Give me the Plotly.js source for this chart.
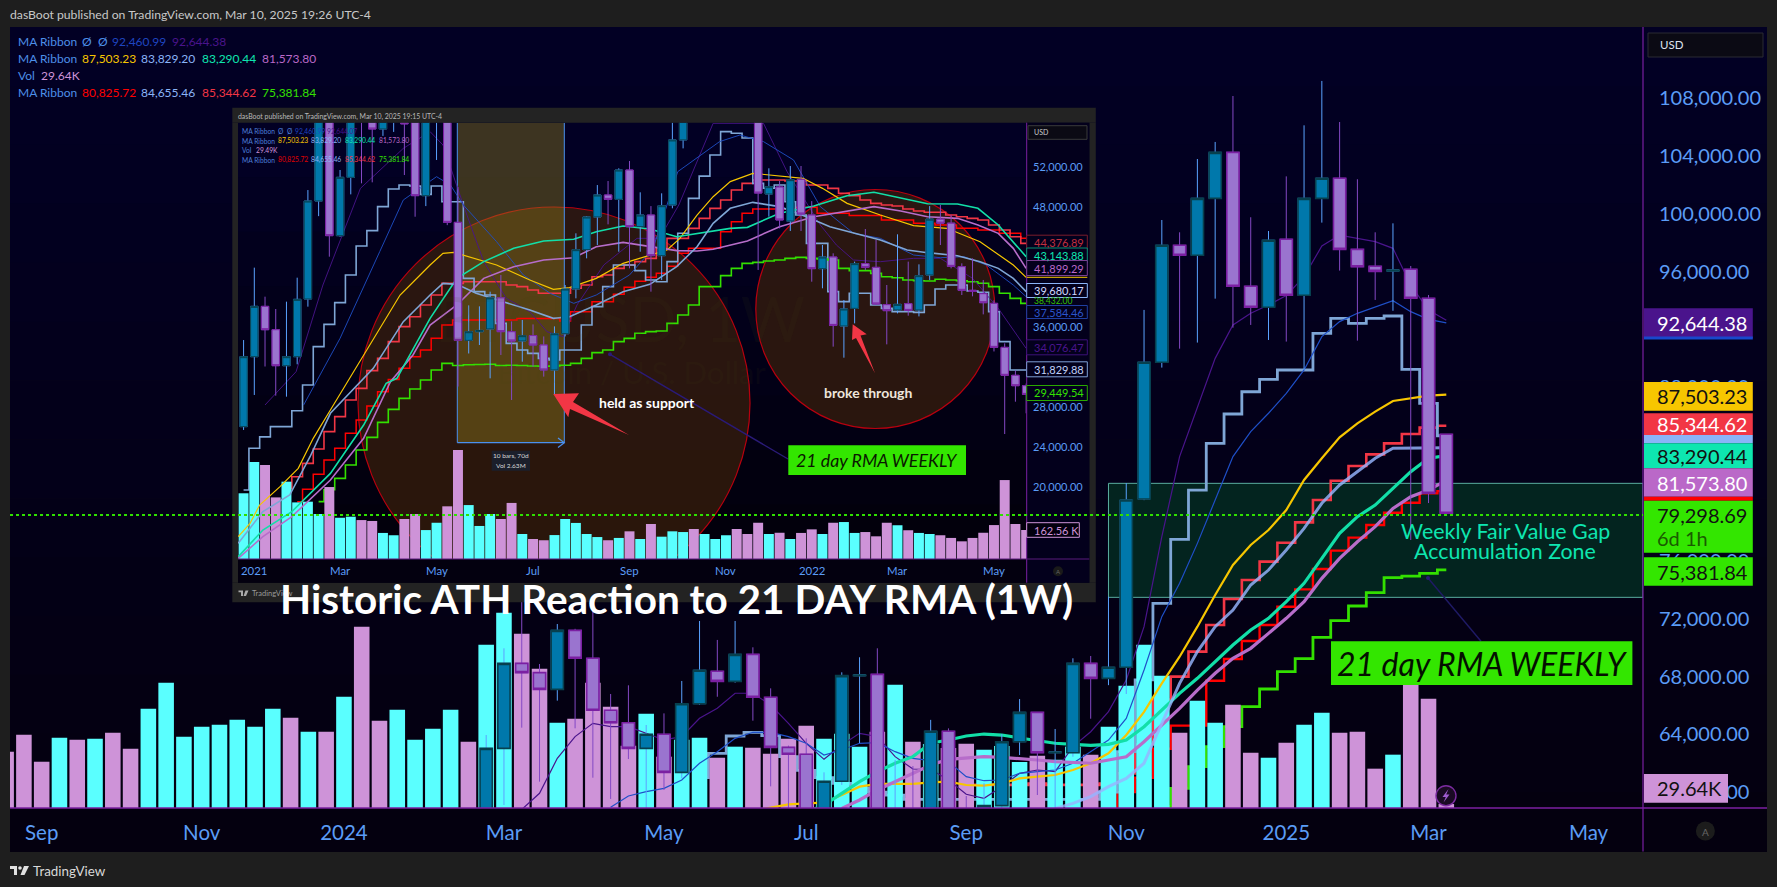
<!DOCTYPE html>
<html><head><meta charset="utf-8">
<script src="https://cdn.plot.ly/plotly-3.0.1.min.js"></script>
<style>html,body{margin:0;padding:0;background:#1e1e1e;overflow:hidden}#c{width:1777px;height:887px}</style>
</head><body><div id="c"></div>
<script>
/* ---------- main chart data (weekly, Aug 2023 - Mar 2025) ---------- */
const volStart='2023-08-21';
const vol=[422,550,347,527,512,520,565,445,745,940,
535,610,625,662,610,745,677,572,572,835,
1360,655,737,512,595,737,497,1225,1465,1307,
1045,640,670,940,760,467,707,385,512,527,
377,460,452,407,520,617,520,557,460,572,
925,497,480,450,482,437,465,345,392,362,
460,400,610,917,1225,992,565,805,640,775,
415,377,490,625,715,565,572,295,400,977,
820,29.64];
const volUp=[0,0,0,1,0,1,0,0,1,1,
1,1,1,1,1,1,0,1,0,1,
0,0,1,1,1,1,0,1,1,0,
0,1,0,0,0,0,1,0,1,1,
0,1,0,0,0,0,1,1,1,0,
1,0,1,0,0,1,1,1,0,1,
1,0,1,1,1,1,0,1,1,0,
0,1,0,1,1,0,0,0,1,0,
0,0];
const candleStart='2024-02-26';
const open=[51500,63030,68910,68265,67110,71190,69260,65660,64800,63030,64000,61370,66120,68360,67665,69530,66560,63100,62620,56700,60750,68050,68150,58100,58700,58450,64210,57300,54850,59065,63490,65520,62730,62730,68910,67870,68636,80280,89740,97830,97140,101080,104260,95000,93540,98250,94370,101080,102470,97550,96380,96050,96170,94164,84755];
const high=[63950,69950,73640,68865,71630,71300,72715,66790,67390,64645,65450,67690,71840,70530,71840,70020,67180,63220,63720,61370,68290,69330,69950,62220,61800,65000,64410,59730,60610,64020,66440,65520,64370,69260,69420,73520,81380,93360,99580,98730,103800,104980,108160,99770,98820,102600,106130,109200,106360,102400,98730,99350,96400,94394,84755];
const low=[50900,59110,64460,60725,66330,64415,61000,59530,62290,58880,60150,60960,66050,66600,67575,64945,60400,58880,53500,53800,60500,63400,57000,49500,56100,57800,57000,52500,52000,58890,62570,59800,58900,62450,65080,67400,66790,80200,89370,90680,91100,94140,92130,92320,91280,91170,89200,99400,96080,91235,94050,93300,77443,80000,79298.69];
const close=[63030,68910,68265,67110,71190,69260,65660,64800,63030,64000,61370,66120,68430,67665,69530,66560,63100,62620,56700,60750,68060,68100,58100,58700,58450,64210,57300,54850,59065,63490,65520,62730,62780,68910,67870,68635,80210,89740,97830,97140,101080,104260,95000,93540,98180,94370,101080,102470,97550,96350,96030,96120,94164,80673,79298.69];
const maDarkStart='2024-03-11';
const maDark=[58800,59920,62340,63840,64760,64530,64530,64070,63610,63840,65110,65800,66840,66840,66030,64760,63380,62270,63260,64070,63840,62455,61600,61580,60840,59850,59570,60380,61300,61530,61420,63150,64180,65570,67760,71447,77673,83210,86670,90010,92320,93125,93700,94350,95660,97785,98540,98300,98080,97620,95085,93350,92644];
const maBlueStart='2024-04-15';
const maBlue=[58950,59730,60030,60260,60840,62000,62800,63720,64140,64140,63840,63380,62570,62915,63380,63420,62800,62340,62180,62110,61070,60790,60840,61300,61420,61530,62000,62800,63600,65105,68450,72140,74445,77210,80210,83210,84940,86210,87590,89205,91510,92550,93125,93590,94000,93240,92710,92461];
const maYellowStart='2024-06-10';
const maYellow=[58700,58950,59157,59225,59270,59800,60380,60565,60565,60565,60680,60725,60495,60450,60610,60955,61070,61185,61530,62000,62685,63950,65550,67525,69370,71447,73640,75713,77096,78135,79520,81595,83095,84550,85515,86325,87060,87245,87430,87503];
const maTealStart='2024-07-01';
const maTeal=[58600,59110,59918,60725,61415,62000,62455,63380,63607,63885,64020,63950,63745,63560,63380,63310,63240,63310,63607,64530,65680,66834,67873,69025,70179,71216,72024,73176,74445,76175,77900,79057,79860,81017,82170,83095,83290];
const maPinkStart='2024-07-15';
const maPink=[58880,59457,60150,60725,61300,61880,62270,62385,62455,62410,62340,62224,62110,62040,62000,62224,62450,63490,64645,65800,67065,68220,69255,69950,70985,72024,73176,74790,76175,77325,78365,79630,80440,80900,81574];
const maLightStart='2024-10-07';
const maLight=[58880,59225,59690,60380,60950,62000,64760,67525,69720,71447,72600,74330,75365,76750,78250,79980,81250,82170,83095,83787,83787,83800,83829];
const stepSteelStart='2024-05-20';
const stepSteel=[61000,62685,63885,64140,63910,62455,61500,61000,60600,60300,60000,59800,59500,59500,59500,59500,59500,59500,59500,59500,59500,59500,59500,60000,62800,67760,73060,77490,80900,84130,86160,87700,88560,89205,89205,91740,92780,92430,92780,92940,89250,86900,84655];
const stepCoralStart='2024-09-02';
const stepCoral=[60500,60500,60500,60500,60600,60500,60500,60500,60600,61300,63300,66400,67990,69720,71560,73360,74675,75945,77258,78665,80210,81547,82560,83370,84130,84780,85220,85344];
const stepRedStart='2024-10-28';
const stepRed=[59000,60000,61000,63000,64600,64600,67710,69210,70455,71560,72830,74030,75436,76705,77604,78480,79333,80025,80670,80825];
const stepGreenStart='2024-11-18';
const stepGreen=[59000,60260,61760,63145,64530,65912,67135,68335,69230,70710,71860,72877,73800,74840,74950,75136,75382];
const xTickDates=['2023-09-04','2023-11-06','2024-01-01','2024-03-04','2024-05-06','2024-07-01','2024-09-02','2024-11-04','2025-01-06','2025-03-03','2025-05-05'];
const xTickText=['Sep','Nov','2024','Mar','May','Jul','Sep','Nov','2025','Mar','May'];
const yTickVals=[60000,64000,68000,72000,76000,88000,96000,100000,104000,108000];
const zoneTop=81363, zoneBottom=73476, zoneStart='2024-10-28', lastPrice=79298.69;

/* ---------- inset chart data (weeks counted from 4 Jan 2021) ---------- */
const inStartWeek=-1;
const inVol=[368,543,526,345,433,317,321,252,403,231,
237,218,213,146,133,224,252,162,203,295,
610,302,185,252,224,314,140,112,105,134,
224,202,140,123,105,118,155,112,196,125,
155,151,168,140,112,133,168,140,203,140,
147,112,146,166,140,203,207,146,151,127,
203,189,161,146,140,133,118,99,118,147,
190,442,196,162.56];
const inVolUp=[1,1,0,0,1,1,1,1,0,1,
1,0,0,1,1,0,0,1,1,0,
0,1,1,1,0,0,1,0,0,1,
1,1,1,1,0,1,0,1,0,1,
1,1,0,1,1,1,0,0,0,1,
0,1,0,0,1,0,1,1,0,0,
0,1,0,1,1,0,0,0,0,0,
0,0,0,0];
const inOpen=[26000,32980,38000,35670,32080,32980,38730,48510,57400,45050,
50870,61000,58500,55690,57000,60000,58000,49040,57000,58000,
46380,34610,35470,35740,38850,35475,34545,35076,34145,31650,
35270,39730,43655,46915,49110,48675,51600,45950,47110,43055,
48110,54600,60800,61500,60900,63300,61400,65500,60000,49210,
49905,46515,50670,47110,41760,42923,36040,37800,42260,41890,
38170,37635,38270,37635,41130,46700,46300,41960,39600,39265,
38300,33910,31120,30085];
const inClose=[32980,38000,35670,32080,32980,38700,48510,57400,45050,50870,
61000,58500,55690,57000,60000,56200,49040,57000,59000,46380,
34610,35470,35600,38850,35475,34545,35076,34145,31650,35270,
39730,43655,46915,49110,48675,51600,45950,47110,43055,48040,
54600,60800,61500,60900,63300,61400,65500,60000,49300,49940,
46615,50637,47210,41760,42923,36100,37740,42260,41890,38235,
37570,38200,37600,41060,46700,46300,41990,39600,39500,38365,
33910,31120,30085,29220];
const inHigh=[34640,41860,38965,37735,38467,40860,49600,58300,58300,51600,
61500,61500,59000,59000,61000,61000,59000,58000,60000,59000,
49900,38100,38000,39465,41130,36500,36640,36200,35000,36000,
40130,45285,47000,50100,50500,51770,52500,49375,48000,49275,
56500,62000,63000,62500,64000,65000,66000,68000,62000,51770,
50500,52000,52000,48500,44120,43290,38630,42460,45715,44620,
40130,45185,42460,42190,48000,48110,47110,42290,42790,40630,
38600,34310,31600,30300];
const inLow=[25670,29160,32000,29090,28990,32220,37970,47000,42955,44950,
49170,50270,50370,55000,55400,51100,46940,48000,52600,46100,
30000,33300,34145,30820,33150,28660,32480,31980,30990,29160,
35000,38800,42790,44120,46180,43450,41790,43450,39465,40630,
47780,53760,57000,58000,58000,59000,59000,58000,41630,46950,
45780,45520,45520,40460,39800,33980,32880,36300,41630,38140,
34210,37300,37070,37000,40630,44120,41790,39130,39000,37200,
33500,25265,28490,27330];
const inSteel=[19680,23840,24980,26000,26000,27590,30155,33980,36205,38370,41130,44020,45550,47945,49705,50105,50005,49170,50005,48440,48440,40795,39465,39130,36300,34310,33650,33310,32815,32650,33650,33650,36140,37970,39965,42125,42125,41560,40630,40460,42460,45285,48767,50990,53100,55425,55260,54800,50270,49780,50105,48440,47110,44285,44285,39465,38470,39300,39300,38135,37800,37470,37470,37400,38135,39730,40130,40130,39530,39400,37470,34480,31650,31650];
const inCoralStart=3;
const inCoral=[19800,21000,22340,23770,25500,27000,28660,29820,31585,32815,34480,35975,36970,38135,39130,40295,40295,40460,40460,40460,40460,40130,39965,39630,39300,39300,39300,39800,40130,40960,41130,41790,42125,42460,42790,43790,44785,44785,45780,46780,47775,48610,49605,50270,50600,50600,50600,50500,50500,50105,50105,49770,49275,49040,48610,48275,48110,48010,47710,47510,47380,47380,47110,46945,46780,46615,46115,45615,44950,44285];
const inRedStart=4;
const inRed=[18520,19750,21240,22670,23840,25333,26660,28060,29490,30700,31820,32980,33650,34810,36140,36640,36640,36640,36640,36640,36640,36800,36800,36800,36800,36540,37470,37470,38470,38470,39200,39900,40500,40900,41300,42000,43300,43790,43790,43790,45450,46450,47280,47710,47710,47710,47710,47880,47880,47280,47280,47280,47050,47050,47050,46615,46615,46615,46280,46280,46115,46115,45780,45780,45615,45615,45285,45285,44785];
const inGreenStart=6;
const inGreen=[18520,19700,20845,22175,23670,24935,26430,27725,28825,29755,30655,31650,32315,32100,32180,32200,32230,32100,32130,32100,32050,32020,32050,32120,32315,32815,33380,33650,34480,34810,35310,35475,35540,36300,37140,38135,39965,39965,41060,41790,42290,42390,42525,42620,42790,42890,42790,42720,42620,41790,41560,41560,41290,40960,40860,40630,40560,40530,40700,40630,40560,40460,40300,39965,39300,38800,38300];
const inYellowW=[-1.5,-0.4,0.5,2.4,4.1,5.5,7.1,8.8,10.2,13.6,16.4,17.6,18.6,19.5,22.6,25.7,27.9,29.4,31.9,34.4,36.9,38.5,39.7,41.3,42.8,44.4,46.5,49,51.2,53,55.3,58.4,61.5,64.6,67.7,70.8,72];
const inYellow=[15025,16355,18185,20015,21840,24835,27660,30655,33150,39130,42125,43290,43390,43120,42125,40630,39700,39865,40795,42290,43055,43620,44785,47110,48940,50440,51270,51035,50770,49770,48275,47110,46050,45785,44450,42125,40895];
const inTealW=[-1.5,0.8,3.5,7.1,10.2,12.3,13.3,16.4,18.9,21.4,24.2,27,29.8,31.9,34.4,36.9,39.4,41.3,44.4,46,49,52.2,55.3,57.8,60.3,62.8,65.6,67.5,69.4,70.8,72];
const inTeal=[13030,15690,17520,21340,26160,30320,30820,36805,40795,42460,43790,44520,44685,45450,46015,45715,44950,45285,45780,45880,47280,48010,49040,49375,48775,48240,48210,47780,46115,44450,42955];
const inPinkW=[-1.5,0.8,3.5,7.1,10.2,12.7,14.8,16.4,18.9,21.4,24.2,27,29.8,31.9,34.4,36.9,39.4,41.3,42.8,46,49,52.2,55.3,57.8,60.3,62.8,65.6,67.5,69.4,70.8,72];
const inPink=[12865,15025,17020,20680,24835,30485,33150,36140,38135,40795,41960,42625,42855,43950,44385,43950,43555,43520,43690,44520,45950,46945,47510,47945,47510,46945,46780,46115,45285,43790,41790];
const inLightW=[-1.5,0.8,3.3,5.2,7.1,11.1,13.9,16.4,17.6,18.9,20.7,23.2,25.7,27.9,29.4,31.9,34.4,36.9,39.4,41.3,42.8,44.4,46.5,49,51.5,53.7,55.9,58.4,60.9,62.8,65.6,67.7,69.4,70.8,72];
const inLight=[14360,17520,19180,23000,27330,31820,36470,39130,40295,40195,39300,38465,37635,36805,36970,38135,39465,40195,41960,43950,46280,47780,48375,47945,46945,45950,45350,44620,43620,43355,43055,42460,41790,40795,39465];
const inBlueW=[4.6,8,11.7,13.9,17,18.3,19.5,22.6,25.1,27.6,29.8,31.9,35,37.2,39.5,43.4,45.3,47.5,50.3,52.8,55.9,58.4,61.5,64,66.2,68.3,70.8,72];
const inBlue=[28160,34810,43455,48610,50935,50105,48110,44450,41130,39300,38300,39130,41130,43790,51435,54430,55090,54430,52600,47945,45285,44785,43120,42855,42955,42125,40130,38965];
const inDarkW=[1,3.9,6.4,9.9,13.9,16.4,17.6,19.5,21.4,23.5,25.7,27.3,28.8,30.1,32.6,35.7,37.8,39.6,42.8,47.5,49.7,52.8,54.3,55.9,58.4,61.5,64,67,69.4,72];
const inDark=[28160,31485,40130,49770,53760,55425,54095,48110,42460,38800,37470,35475,34975,38135,42125,44785,44785,48110,56256,56256,51435,46115,44120,42620,42455,42790,42790,40795,37800,33810];
const inXTickWeeks=[0,8,17,26,35,44,52,60,69];
const inXTickText=['2021','Mar','May','Jul','Sep','Nov','2022','Mar','May'];
const inYTickVals=[52000,48000,36000,28000,24000,20000];

/* ---------- pixel frame ---------- */
const W=1777,H=887,fx=p=>p/W,fy=p=>1-p/H;
const M={l:10,r:1643,t:27,b:808};
const mPx=p=>98.3+(108000-p)*0.014455, mPrice=y=>108000-(y-98.3)/0.014455;
const lastBar=Date.UTC(2025,2,10),DAY=864e5;
const mDate=x=>new Date(lastBar+(x-1446.3)/17.78*7*DAY).toISOString();
const I={l:238,r:1026.7,t:122.7,b:559};
const iWeek=x=>(x-254.3)/10.72, iPrice=y=>52000-(y-166)*99.75;
const weeksFrom=(s,n)=>Array.from({length:n},(_,i)=>new Date(Date.parse(s+'T00:00:00Z')+i*7*DAY).toISOString().slice(0,10));
const idx=(s,n)=>Array.from({length:n},(_,i)=>s+i);

const F='Lato, "Noto Sans", sans-serif';
const BLUE='#5b9cf6',UP='#0078ab',DN='#9a74cf',CY='#5affff',PK='#ce93d8';
const colors={dark:'#4a148c',blue:'#1f4fc8',yellow:'#f7c600',teal:'#12dfa8',pink:'#b76dca',light:'rgba(150,180,255,.82)',steel:'#7fa6d6',coral:'#f23645',red:'#ff0000',green:'#33e000'};

/* ---------- traces ---------- */
function line(x,y,color,width,xa,ya,shape){return {type:'scatter',mode:'lines',x,y,xaxis:xa,yaxis:ya,hoverinfo:'skip',showlegend:false,line:{color,width,shape:shape||'linear'}};}
function ser(s,arr,color,width,ya,shape){return line(weeksFrom(s,arr.length),arr,color,width,'x',ya,shape);}
function candles(x,o,h,l,c,xa,ya,bw){
  const mx=o.map((v,i)=>Math.max(v,c[i])),mn=o.map((v,i)=>Math.min(v,c[i]));
  const base={type:'candlestick',x,xaxis:xa,yaxis:ya,hoverinfo:'skip',showlegend:false};
  return [
   {...base,open:o,high:h,low:l,close:c,increasing:{line:{color:'#5aa2ff',width:1},fillcolor:UP},decreasing:{line:{color:'#8448c4',width:1},fillcolor:DN}},
   {...base,open:o,high:mx,low:mn,close:c,increasing:{line:{color:'#07404e',width:bw},fillcolor:UP},decreasing:{line:{color:'#7b1fa2',width:bw},fillcolor:DN}}
  ];
}
const volColors=a=>a.map(v=>v?CY:PK);
const data=[
  ser(stepRedStart,stepRed,colors.red,2.4,'y','hvh'),
  ser(stepCoralStart,stepCoral,colors.coral,2.6,'y','hvh'),
  ser(stepSteelStart,stepSteel,colors.steel,2.8,'y','hvh'),
  ser(stepGreenStart,stepGreen,colors.green,2.8,'y','hvh'),
  {type:'bar',x:weeksFrom(volStart,vol.length),y:vol,xaxis:'x',yaxis:'y2',width:0.875*7*DAY,marker:{color:volColors(volUp),line:{width:0}},hoverinfo:'skip',showlegend:false},
  ser(maDarkStart,maDark,colors.dark,1.2,'y3'),
  ser(maBlueStart,maBlue,colors.blue,1.2,'y3'),
  ser(maYellowStart,maYellow,colors.yellow,2.2,'y3'),
  ser(maPinkStart,maPink,colors.pink,3.2,'y3'),
  ser(maTealStart,maTeal,colors.teal,3.2,'y3'),
  ser(maLightStart,maLight,colors.light,3,'y3'),
  ...candles(weeksFrom(candleStart,open.length),open,high,low,close,'x','y4',1.6),
  /* inset */
  line(idx(inRedStart,inRed.length),inRed,colors.red,1.5,'x2','y5','hvh'),
  line(idx(inCoralStart,inCoral.length),inCoral,colors.coral,1.6,'x2','y5','hvh'),
  line(idx(inStartWeek,inSteel.length),inSteel,colors.steel,1.6,'x2','y5','hvh'),
  line(idx(inGreenStart,inGreen.length),inGreen,colors.green,1.6,'x2','y5','hvh'),
  {type:'bar',x:idx(inStartWeek,inVol.length),y:inVol,xaxis:'x2',yaxis:'y6',width:0.93,marker:{color:volColors(inVolUp),line:{width:0}},hoverinfo:'skip',showlegend:false},
  line(inDarkW,inDark,colors.dark,0.9,'x2','y7'),
  line(inBlueW,inBlue,colors.blue,0.9,'x2','y7'),
  line(inYellowW,inYellow,colors.yellow,1.2,'x2','y7'),
  line(inPinkW,inPink,colors.pink,1.6,'x2','y7'),
  line(inTealW,inTeal,colors.teal,1.6,'x2','y7'),
  line(inLightW,inLight,colors.steel,1.6,'x2','y7'),
  ...candles(idx(inStartWeek,inOpen.length),inOpen,inHigh,inLow,inClose,'x2','y8',1)
];

/* ---------- overlays ---------- */
const shapes=[],ann=[];
function rectP(x0,y0,x1,y1,fill,lineColor,layer,lw){shapes.push({type:'rect',xref:'paper',yref:'paper',x0:fx(x0),x1:fx(x1),y0:fy(y0),y1:fy(y1),fillcolor:fill,line:{color:lineColor||'rgba(0,0,0,0)',width:lineColor?(lw||1):0},layer:layer||'above'});}
function lineP(x0,y0,x1,y1,color,w,dash){shapes.push({type:'line',xref:'paper',yref:'paper',x0:fx(x0),x1:fx(x1),y0:fy(y0),y1:fy(y1),line:{color,width:w,dash:dash||'solid'},layer:'above'});}
function polyP(pts,fill,lineColor,w){shapes.push({type:'path',xref:'paper',yref:'paper',path:'M '+pts.map(p=>fx(p[0])+' '+fy(p[1])).join(' L ')+' Z',fillcolor:fill,line:{color:lineColor||'rgba(0,0,0,0)',width:w||0},layer:'above'});}
function circP(cx,cy,r,fill,lineColor,w){shapes.push({type:'circle',xref:'paper',yref:'paper',x0:fx(cx-r),x1:fx(cx+r),y0:fy(cy+r),y1:fy(cy-r),fillcolor:fill,line:{color:lineColor||'rgba(0,0,0,0)',width:w||0},layer:'above'});}
function txt(x,y,text,size,color,anchor,family){ann.push({xref:'paper',yref:'paper',x:fx(x),y:fy(y),xanchor:anchor||'left',yanchor:'middle',text,showarrow:false,font:{family:family||F,size,color},borderpad:0,borderwidth:0});}
function iShape(o){shapes.push(Object.assign({xref:'x2',yref:'y5',layer:'below'},o));}

/* page background + gradient chart pane */
const bgTop=[2,0,36],bgBot=[4,0,15],bands=14;
for(let i=0;i<bands;i++){const t=i/(bands-1),c=bgTop.map((v,k)=>Math.round(v+(bgBot[k]-v)*t));
  const y0=27+(851.5-27)*i/bands,y1=27+(851.5-27)*(i+1)/bands+0.5;
  rectP(10,y0,1767,y1,`rgb(${c})`,null,'below');}
/* FVG zone */
shapes.push({type:'rect',xref:'x',yref:'y',layer:'below',x0:zoneStart,x1:mDate(M.r),y0:zoneBottom,y1:zoneTop,fillcolor:'#03241f',line:{color:'#5aaea0',width:1}});

/* inset pane */
const iBands=8;
for(let i=0;i<iBands;i++){const t=i/(iBands-1),c=[2,0,Math.round(36-24*t)];
  iShape({type:'rect',x0:iWeek(I.l),x1:iWeek(I.r),y1:iPrice(I.t+(I.b-I.t)*i/iBands),y0:iPrice(I.t+(I.b-I.t)*(i+1)/iBands+0.5),fillcolor:`rgb(${c})`,line:{width:0}});}
const brown='rgba(62,32,12,.68)',cred='#b8000f';
iShape({type:'circle',x0:iWeek(554-196),x1:iWeek(554+196),y0:iPrice(403+196),y1:iPrice(403-196),fillcolor:brown,line:{color:cred,width:1.2}});
iShape({type:'circle',x0:iWeek(875.3-119.5),x1:iWeek(875.3+119.5),y0:iPrice(309+119.5),y1:iPrice(309-119.5),fillcolor:brown,line:{color:cred,width:1.2}});
iShape({type:'rect',x0:iWeek(457.3),x1:iWeek(564.3),y0:iPrice(442.7),y1:iPrice(I.t),fillcolor:'rgba(150,130,30,.4)',line:{width:0}});
iShape({type:'line',x0:iWeek(457.3),x1:iWeek(457.3),y0:iPrice(442.7),y1:iPrice(I.t),line:{color:'#4a90f0',width:1}});
iShape({type:'line',x0:iWeek(564.3),x1:iWeek(564.3),y0:iPrice(442.7),y1:iPrice(I.t),line:{color:'#4a90f0',width:1}});
iShape({type:'line',x0:iWeek(457.3),x1:iWeek(564.3),y0:iPrice(442.7),y1:iPrice(442.7),line:{color:'#4a90f0',width:1.2}});

/* inset frame (painted over the main chart, around the pane) */
const FRAME='#232323',STRIP='#03000f',PANEL='#03001c';
rectP(232.3,107.7,1095.8,122.7,FRAME);
rectP(232.3,582.7,1095.8,602.3,FRAME);
rectP(232.3,122.7,238,582.7,FRAME);
rectP(1089.3,122.7,1095.8,582.7,FRAME);
rectP(I.r,I.t,1089.3,582.7,PANEL);
rectP(I.l,I.b,I.r,582.7,STRIP);
lineP(I.r,I.t,I.r,582.7,'#7b1fa2',1);
lineP(I.l,I.b,1089.3,I.b,'#5a1a7c',1);
/* inset annotations */
lineP(610,354.3,788,459,'#2a1a78',1.4);
circP(610,354.3,2,'#2a1a78');
polyP([[553.3,394],[579,393.3],[573,402],[629,435],[570,409],[568.3,417.3]],'#f23645');
polyP([[852.7,324.3],[866.7,334.3],[860.5,335.5],[875,373.3],[856,338],[852,340]],'#f23645');
polyP([[558,438],[564.3,442.7],[558,447.4],[564.3,442.7]],'rgba(0,0,0,0)','#4a90f0',1.2);
rectP(491.7,450.7,530,470.7,'#1b1f2b');
txt(510.8,455.9,'10 bars, 70d',6.5,'#d8d8d8','center');
txt(510.8,465.4,'Vol 2.63M',6.5,'#d8d8d8','center');
txt(599,402,'<b>held as support</b>',14,'#ffffff');
txt(867.7,393,'<b>broke through</b>',14,'#efe6dc','center');
rectP(788.3,445.3,966,475,'#33e600',null);
txt(877,460,'<i>21 day RMA WEEKLY</i>',17.8,'#0a1a00','center');
/* watermark */
txt(620,318,'BTCUSD, 1W',62,'rgba(70,70,20,.1)','center');
txt(631,372,'Bitcoin / U.S. Dollar',31,'rgba(70,70,20,.1)','center');

/* inset text */
txt(238,116.3,'dasBoot published on TradingView.com, Mar 10, 2025 19:15 UTC-4',6.9,'#b8b8b8');
polyP([[238.5,590.5],[243,590.5],[243,596],[241,596],[241,592.2],[238.5,592.2]],'#aaa');
polyP([[245.5,590.5],[248.5,590.5],[246,596],[243.5,596]],'#aaa');
txt(251.5,593,'TradingView',7.5,'#999');
const inLegend=[[131.3,[['MA Ribbon',241.9,'#4d7fd8'],['Ø',277.8,'#4d7fd8'],['Ø',287,'#4d7fd8'],['92,460.99',294.7,'#1f45c0'],['92,644.07',327,'#4a148c']]],
[140.7,[['MA Ribbon',241.9,'#4d7fd8'],['87,503.23',277.8,'#f7c600'],['83,829.20',311,'#8ab4f8'],['83,290.44',344.8,'#0ee6b0'],['81,573.80',378.5,'#ba68c8']]],
[150.3,[['Vol',241.9,'#4d7fd8'],['29.49K',255.6,'#ce93d8']]],
[159.7,[['MA Ribbon',241.9,'#4d7fd8'],['80,825.72',277.8,'#e00000'],['84,655.46',311,'#8ab4f8'],['85,344.62',344.8,'#f23645'],['75,381.84',378.5,'#33e000']]]];
inLegend.forEach(r=>r[1].forEach(t=>txt(t[1],r[0],t[0],6.7,t[2])));
inXTickWeeks.forEach((w,i)=>txt(254.3+w*10.72,570,inXTickText[i],11.4,BLUE,'center'));
inYTickVals.forEach(v=>txt(1033.3,166+(52000-v)/99.75,v.toLocaleString('en-US',{minimumFractionDigits:2}),11,BLUE));
rectP(1028,125.7,1087,139.3,'#0b0a14','#3a3a3a');
txt(1034,132.5,'USD',7,'#ccc');
function iTag(y,text,color,border,h){rectP(I.r,y-(h||7.5),1087.3,y+(h||7.5),'#03001c',border);txt(1033.5,y,text,11,color);}
iTag(242.7,'44,376.89','#c0303f','#7a1c2c');
iTag(255.5,'43,143.88','#0ee6b0','#0a8f73');
iTag(268,'41,899.29','#ba68c8','#7a3f92');
lineP(I.r,277.3,1087.3,277.3,'#f7c600',1);
iTag(290.5,'39,680.17','#cfd8ff','#8ab4f8',7);
txt(1033.5,301.2,'38,432.00',8.5,'#33c000');
iTag(312,'37,584.46','#2a55cc','#1f3fa0',6.5);
iTag(347.3,'34,076.47','#4a148c','#3c1178');
iTag(369.3,'31,829.88','#c0d0f8','#7fa0d8');
iTag(393,'29,449.54','#33e000','#2aa800');
rectP(I.r,522.7,1079.3,537.3,'#03000f','#ce93d8');
txt(1034,530,'162.56 K',11,'#ce93d8');
circP(1058,571.3,5,'#1a1a1a');
txt(1058,571.3,'A',6,'#666','center');

/* main axis lines */
lineP(M.r,27,M.r,851.5,'#7b1fa2',1.2);
lineP(M.l,M.b,1767,M.b,'#7b1fa2',1.5);
/* main connector to tag */
lineP(1428,578,1481,641.3,'#1f1a66',1.4);
circP(1428,578,2,'#2a1a78');
/* last price dotted line */
shapes.push({type:'line',xref:'paper',yref:'paper',x0:fx(M.l),x1:fx(1643),y0:fy(515),y1:fy(515),line:{color:'#2fe000',width:2,dash:'dot'},layer:'above'});

/* price tags */
function tag(y0,y1,bg,text,color,x1){rectP(1644,y0,x1||1752.8,y1,bg);if(text)txt(1657,(y0+y1)/2,text,20,color);}
tag(308.3,338.3,'#4a148c','92,644.38','#fff');
rectP(1644,336.5,1752.8,339.5,'#1848cc');
tag(382,410.7,'#f7c600','87,503.23','#111');
tag(435,443.3,'#8ab4f8','');
tag(413.3,435,'#f23645','85,344.62','#fff');
tag(443.3,468.3,'#0ee6b0','83,290.44','#111');
tag(468.3,496.7,'#ba68c8','81,573.80','#fff');
tag(496.7,500.7,'#ff0000','');
tag(500.7,552.7,'#33e600','','#111');
txt(1657,514.5,'79,298.69',20,'#111');
txt(1657,538,'6d 1h',20,'#1a5a00');
tag(557.3,585.7,'#33e600','75,381.84','#111');
tag(774,802.7,PK,'29.64K','#111',1728);
/* USD box */
rectP(1648,33,1763,57,'#0b0a14','#2a2a33');
txt(1660,45,'USD',11.5,'#dfe3ee');
/* A button */
circP(1705.4,831,9.5,'#1c1c1c');
txt(1705.4,831.5,'A',10,'#666','center');
/* bolt icon */
circP(1446,795.7,10,'#1a0a24','#7b2ba0',1.4);
polyP([[1448.5,789],[1442.5,797],[1445.8,797],[1443.5,802.5],[1449.5,794.5],[1446.2,794.5]],'#a05cd0');

/* zone labels */
txt(1505,530.7,'Weekly Fair Value Gap',21.4,'#0ee6b0','center');
txt(1505,550.7,'Accumulation Zone',21.4,'#0ee6b0','center');
rectP(1331,641.3,1632.4,685,'#33e600');
txt(1482,663,'<i>21 day RMA WEEKLY</i>',32,'#041000','center');
/* big title */
txt(676,598,'<b>Historic ATH Reaction to 21 DAY RMA (1W)</b>',40.5,'#ffffff','center');
/* page header / footer */
txt(10,15,'dasBoot published on TradingView.com, Mar 10, 2025 19:26 UTC-4',12.2,'#c8c8c8');
polyP([[10,866],[17,866],[17,875],[14,875],[14,869],[10,869]],'#e0e0e0');
circP(20,868,1.8,'#e0e0e0');
polyP([[24,866],[29,866],[24.5,875],[20.5,875]],'#e0e0e0');
txt(33,870.5,'TradingView',13.4,'#d8d8d8');
/* legend */
const legend=[[41.7,[['MA Ribbon',18,'#4d8fe8'],['Ø',81.5,'#4d8fe8'],['Ø',97.6,'#4d8fe8'],['92,460.99',111.7,'#1f45c0'],['92,644.38',171.8,'#4a148c']]],
[58.7,[['MA Ribbon',18,'#4d8fe8'],['87,503.23',81.5,'#f7c600'],['83,829.20',141.2,'#8ab4f8'],['83,290.44',201.7,'#0ee6b0'],['81,573.80',261.8,'#ba68c8']]],
[75.7,[['Vol',18,'#4d8fe8'],['29.64K',41.3,'#ce93d8']]],
[92.7,[['MA Ribbon',18,'#4d8fe8'],['80,825.72',81.5,'#ff0000'],['84,655.46',141.2,'#8ab4f8'],['85,344.62',201.7,'#f23645'],['75,381.84',261.8,'#33e000']]]];
legend.forEach(r=>r[1].forEach(t=>txt(t[1],r[0],t[0],12,t[2])));

/* ---------- layout ---------- */
const mainY=[mPrice(M.b),mPrice(M.t)],volMax=(M.b-M.t)*7.5,inVolMax=(I.b-I.t)*5.6,inY=[iPrice(I.b),iPrice(I.t)];
const mDom=[fy(M.b),fy(M.t)],iDom=[fy(I.b),fy(I.t)];
const over=(axis,range,anchor)=>({overlaying:axis,anchor,range,visible:false,fixedrange:true});
const layout={width:W,height:H,margin:{l:0,r:0,t:0,b:0,pad:0},paper_bgcolor:'#1e1e1e',plot_bgcolor:'rgba(0,0,0,0)',
 showlegend:false,dragmode:false,hovermode:false,barmode:'overlay',boxgap:0.31,boxgroupgap:0,
 xaxis:{domain:[fx(M.l),fx(M.r)],range:[mDate(M.l),mDate(M.r)],type:'date',anchor:'y',rangeslider:{visible:false},showgrid:false,zeroline:false,showline:false,
   tickmode:'array',tickvals:xTickDates,ticktext:xTickText,ticks:'outside',ticklen:6,tickcolor:'rgba(0,0,0,0)',tickfont:{family:F,size:20.5,color:BLUE},fixedrange:true},
 yaxis:{domain:mDom,range:mainY,anchor:'x',side:'right',showgrid:false,zeroline:false,showline:false,tickmode:'array',tickvals:yTickVals,
   ticktext:yTickVals.map(v=>v.toLocaleString('en-US',{minimumFractionDigits:2})),ticks:'outside',ticklen:11,tickcolor:'rgba(0,0,0,0)',tickfont:{family:F,size:20,color:BLUE},fixedrange:true},
 yaxis2:over('y',[0,volMax],'x'),yaxis3:over('y',mainY,'x'),yaxis4:over('y',mainY,'x'),
 xaxis2:{domain:[fx(I.l),fx(I.r)],range:[iWeek(I.l),iWeek(I.r)],anchor:'y5',visible:false,rangeslider:{visible:false},fixedrange:true},
 yaxis5:{domain:iDom,range:inY,anchor:'x2',visible:false,fixedrange:true},
 yaxis6:over('y5',[0,inVolMax],'x2'),yaxis7:over('y5',inY,'x2'),yaxis8:over('y5',inY,'x2'),
 shapes,annotations:ann};
Plotly.newPlot('c',data,layout,{staticPlot:true,displayModeBar:false});
</script></body></html>
